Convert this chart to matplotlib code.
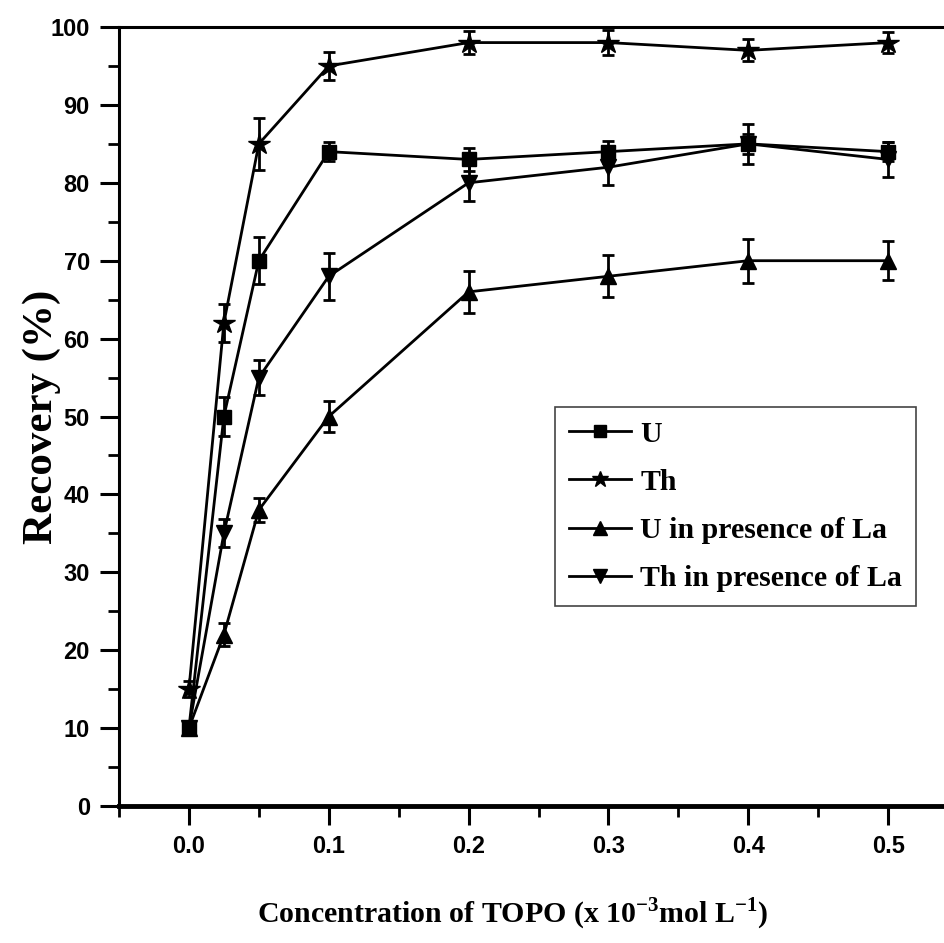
import numpy as np
import matplotlib
matplotlib.use('Agg')
import matplotlib.pyplot as plt
from matplotlib.ticker import MultipleLocator

plt.rcParams['mathtext.fontset'] = 'custom'
plt.rcParams['mathtext.rm'] = 'Liberation Serif:bold'
plt.rcParams['mathtext.bf'] = 'Liberation Serif:bold'

# TOPO concentration (x 10^-3 mol/L)
topo = [0.0, 0.025, 0.05, 0.1, 0.2, 0.3, 0.4, 0.5]

u_rec = [10, 50, 70, 84, 83, 84, 85, 84]
u_err = [0.8, 2.5, 3.0, 1.2, 1.5, 1.4, 1.3, 1.2]

th_rec = [15, 62, 85, 95, 98, 98, 97, 98]
th_err = [1.0, 2.5, 3.3, 1.8, 1.5, 1.6, 1.4, 1.4]

u_la_rec = [10, 22, 38, 50, 66, 68, 70, 70]
u_la_err = [0.8, 1.5, 1.5, 2.0, 2.7, 2.7, 2.8, 2.5]

th_la_rec = [10, 35, 55, 68, 80, 82, 85, 83]
th_la_err = [0.8, 1.8, 2.2, 3.0, 2.3, 2.3, 2.6, 2.2]

fig = plt.figure(figsize=(9.45, 9.43), dpi=100)
ax = fig.add_axes([119 / 945, 1 - 806 / 943, (945 - 119) / 945, (806 - 27) / 943])

series = [
    (u_rec, u_err, 's', 10, 9, 'U'),
    (th_rec, th_err, '*', 16, 12, 'Th'),
    (u_la_rec, u_la_err, '^', 11, 10, 'U in presence of La'),
    (th_la_rec, th_la_err, 'v', 11, 10, 'Th in presence of La'),
]
handles = []
for vals, errs, mk, ms, ms_leg, lab in series:
    ax.errorbar(topo, vals, yerr=errs, color='black', lw=2, marker=mk, ms=ms,
                capsize=4.5, capthick=2, elinewidth=2, clip_on=False, zorder=3)
    h, = ax.plot([], [], color='black', lw=2, marker=mk, ms=ms_leg, label=lab)
    handles.append(h)

ax.set_xlim(-0.05, 0.5407)
ax.set_ylim(0, 100)
ax.xaxis.set_minor_locator(MultipleLocator(0.05))
ax.yaxis.set_major_locator(MultipleLocator(10))
ax.yaxis.set_minor_locator(MultipleLocator(5))
ax.set_xticks([0.0, 0.1, 0.2, 0.3, 0.4, 0.5])
ax.set_xticklabels(['0.0', '0.1', '0.2', '0.3', '0.4', '0.5'])

ax.tick_params(which='major', direction='out', length=14, width=2.2, pad=7)
ax.tick_params(which='minor', direction='out', length=8, width=2)
for lbl in ax.get_xticklabels() + ax.get_yticklabels():
    lbl.set_fontfamily('Liberation Sans')
    lbl.set_fontweight('bold')
    lbl.set_fontsize(17)

ax.spines['right'].set_visible(False)
ax.spines['left'].set_linewidth(2.2)
ax.spines['top'].set_linewidth(2.2)
ax.spines['bottom'].set_linewidth(3.5)

ax.set_ylabel('Recovery (%)', fontfamily='Liberation Serif', fontweight='bold', fontsize=31)
ax.yaxis.set_label_coords(-0.07, 0.5)
ax.set_xlabel(r'Concentration of TOPO (x 10$^{-3}$mol L$^{-1}$)',
              fontfamily='Liberation Serif', fontweight='bold', fontsize=21.5)
ax.xaxis.set_label_coords(0.477, -0.115)

leg = ax.legend(handles=handles, loc='upper left', bbox_to_anchor=(0.528, 0.512),
                prop={'family': 'Liberation Serif', 'weight': 'bold', 'size': 21.5},
                handlelength=2.1, handletextpad=0.3, borderpad=0.45, labelspacing=0.71,
                fancybox=False, framealpha=1, borderaxespad=0)
leg.get_frame().set_edgecolor('#444444')
leg.get_frame().set_linewidth(1.2)

plt.savefig('out.png', dpi=100)
